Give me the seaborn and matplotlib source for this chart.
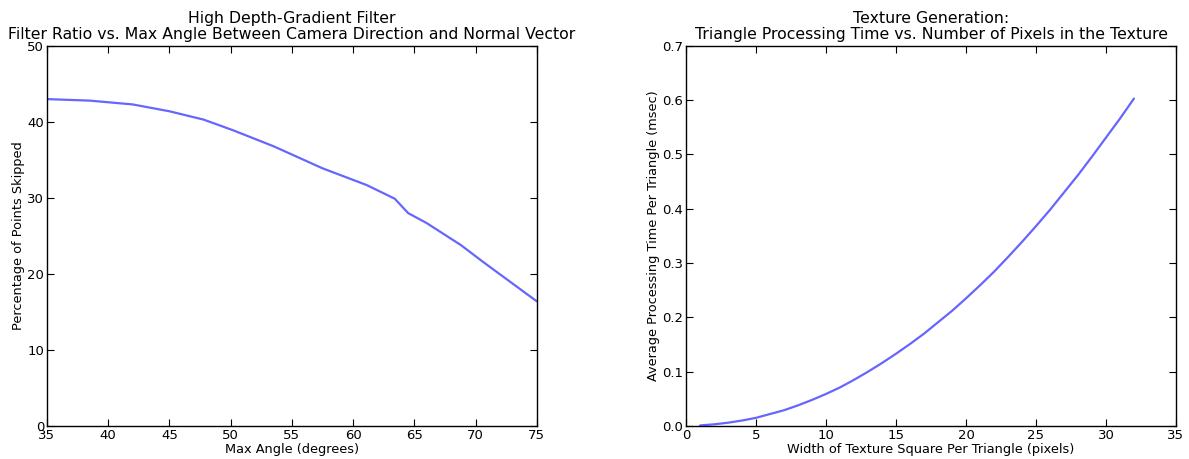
import matplotlib
matplotlib.use("Agg")
import matplotlib.pyplot as plt
import seaborn as sns
import pandas as pd

# High depth-gradient filter: max angle vs. percent of points skipped
max_angle = [35, 38.5, 42, 45, 47.8, 50.2, 53.5, 57.5, 61.1, 63.4, 64.5, 66.0, 68.8, 70.6, 75]
pct_skipped = [43.0, 42.8, 42.3, 41.4, 40.3, 38.9, 36.8, 33.9, 31.7, 29.9, 28.0, 26.7, 23.8, 21.6, 16.4]

# Texture generation: width of texture square vs. processing time (msec)
tex_width = list(range(1, 33))
proc_time = [0.001, 0.003, 0.006, 0.010, 0.015, 0.022, 0.029, 0.038, 0.048, 0.059,
             0.071, 0.085, 0.100, 0.116, 0.133, 0.151, 0.170, 0.191, 0.212, 0.235,
             0.259, 0.284, 0.311, 0.339, 0.368, 0.398, 0.430, 0.462, 0.496, 0.531,
             0.566, 0.603]

sns.set_style("white", {
    "xtick.direction": "in", "ytick.direction": "in",
    "xtick.top": True, "ytick.right": True,
    "xtick.bottom": True, "ytick.left": True,
    "axes.edgecolor": "black",
    "text.color": "black", "axes.labelcolor": "black",
    "xtick.color": "black", "ytick.color": "black",
})
plt.rcParams['font.family'] = ['DejaVu Sans']
plt.rcParams['xtick.major.size'] = 5
plt.rcParams['ytick.major.size'] = 5

df1 = pd.DataFrame({"angle": max_angle, "pct": pct_skipped})
df2 = pd.DataFrame({"width": tex_width, "time": proc_time})

fig, (ax1, ax2) = plt.subplots(1, 2, figsize=(11.89, 4.59), dpi=100)
fig.subplots_adjust(left=0.0395, right=0.989, bottom=0.072, top=0.9, wspace=0.305)

line_kw = dict(color="blue", alpha=0.6, linewidth=1.6)

sns.lineplot(data=df1, x="angle", y="pct", ax=ax1, **line_kw)
ax1.set_xlim(35, 75)
ax1.set_ylim(0, 50)
ax1.set_title("High Depth-Gradient Filter\nFilter Ratio vs. Max Angle Between Camera Direction and Normal Vector",
              fontsize=11.3, linespacing=1.05, pad=5)
ax1.set_xlabel("Max Angle (degrees)", fontsize=9.3, labelpad=1)
ax1.set_ylabel("Percentage of Points Skipped", fontsize=9.3, labelpad=2)

sns.lineplot(data=df2, x="width", y="time", ax=ax2, **line_kw)
ax2.set_xlim(0, 35)
ax2.set_ylim(0, 0.7)
ax2.set_title("Texture Generation:\nTriangle Processing Time vs. Number of Pixels in the Texture",
              fontsize=11.3, linespacing=1.05, pad=5)
ax2.set_xlabel("Width of Texture Square Per Triangle (pixels)", fontsize=9.3, labelpad=1)
ax2.set_ylabel("Average Processing Time Per Triangle (msec)", fontsize=9.3, labelpad=2)

for ax in (ax1, ax2):
    ax.tick_params(labelsize=9.5, pad=2)
    for s in ax.spines.values():
        s.set_linewidth(1.0)

fig.savefig("out.png", dpi=100)
